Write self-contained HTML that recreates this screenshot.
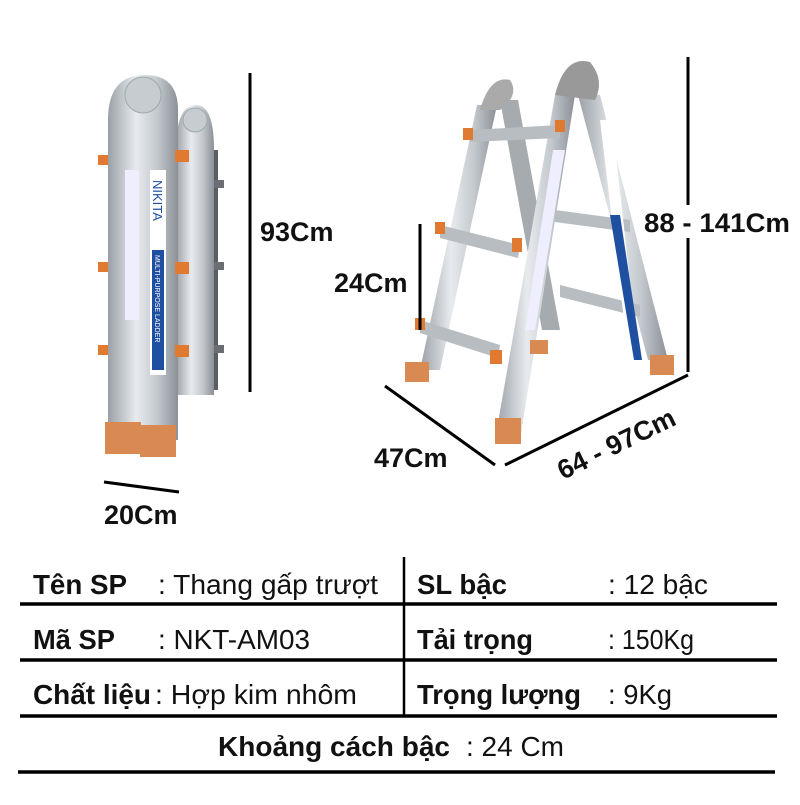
<!DOCTYPE html>
<html><head><meta charset="utf-8"><style>
body{margin:0;background:#fff;width:800px;height:800px;overflow:hidden}
svg text{font-family:"Liberation Sans",Arial,sans-serif}
</style></head><body>
<svg width="800" height="800" viewBox="0 0 800 800">
<defs>
<linearGradient id="al" x1="0" x2="1"><stop offset="0" stop-color="#9aa0a6"/><stop offset=".4" stop-color="#e8ebee"/><stop offset=".7" stop-color="#c4c9ce"/><stop offset="1" stop-color="#8a9096"/></linearGradient>
</defs>
<!-- folded ladder -->
<rect x="178" y="150" width="40" height="240" fill="#5a5e63"/>
<rect x="178" y="180" width="46" height="8" fill="#6a6e72"/>
<rect x="178" y="262" width="46" height="8" fill="#6a6e72"/>
<rect x="178" y="345" width="46" height="8" fill="#6a6e72"/>
<path d="M176 150 Q176 105 196 105 Q214 105 214 150 L214 395 L176 395Z" fill="url(#al)"/>
<path d="M108 440 L108 120 Q108 75 145 75 Q178 75 178 110 L178 440Z" fill="url(#al)"/>
<circle cx="143" cy="95" r="18" fill="#c7ccd1" stroke="#9aa" />
<circle cx="195" cy="120" r="12" fill="#c7ccd1" stroke="#9aa"/>
<rect x="150" y="170" width="16" height="205" fill="#fff"/>
<rect x="152" y="250" width="12" height="120" fill="#1f4fa0"/>
<text x="0" y="0" transform="translate(153 180) rotate(90)" font-size="13" fill="#1f4fa0">NIKITA</text>
<text x="0" y="0" transform="translate(155 255) rotate(90)" font-size="7" fill="#fff">MULTI-PURPOSE LADDER</text>
<rect x="125" y="170" width="14" height="150" fill="#eef"/>
<rect x="105" y="422" width="36" height="32" fill="#d98a52"/>
<rect x="140" y="425" width="36" height="32" fill="#d98a52"/>
<rect x="98" y="155" width="10" height="10" fill="#e07a30"/>
<rect x="98" y="262" width="10" height="10" fill="#e07a30"/>
<rect x="98" y="345" width="10" height="10" fill="#e07a30"/>
<rect x="175" y="150" width="14" height="12" fill="#e07a30"/>
<rect x="175" y="262" width="14" height="12" fill="#e07a30"/>
<rect x="175" y="345" width="14" height="12" fill="#e07a30"/>
<!-- open ladder -->
<g>
<polygon points="477,105 497,105 440,370 420,370" fill="url(#al)"/>
<polygon points="500,100 518,100 560,330 542,330" fill="#a6abb0"/>
<polygon points="555,95 575,95 520,440 495,440" fill="url(#al)"/>
<polygon points="578,95 600,95 668,360 648,360" fill="url(#al)"/>
<polygon points="470,130 560,125 560,138 470,142" fill="#b8bdc2"/>
<polygon points="440,225 520,245 518,258 440,238" fill="#b8bdc2"/>
<polygon points="420,320 500,345 498,358 420,333" fill="#b8bdc2"/>
<polygon points="555,210 630,220 630,232 555,222" fill="#b8bdc2"/>
<polygon points="560,285 640,305 640,317 560,297" fill="#b8bdc2"/>
<path d="M480 110 Q490 75 510 80 Q520 95 500 110Z" fill="#aaa"/>
<path d="M555 95 Q565 55 590 62 Q605 80 595 100Z" fill="#999"/>
<polygon points="600,120 612,120 640,370 630,370" fill="#fff"/>
<polygon points="610,215 620,215 642,360 634,360" fill="#1f4fa0"/>
<polygon points="553,150 565,150 535,330 525,330" fill="#eef"/>
<rect x="405" y="362" width="24" height="20" fill="#d98a52"/>
<rect x="495" y="418" width="26" height="26" fill="#d98a52"/>
<rect x="650" y="355" width="24" height="20" fill="#d98a52"/>
<rect x="530" y="340" width="18" height="14" fill="#d98a52"/>
<rect x="463" y="128" width="10" height="12" fill="#e07a30"/>
<rect x="555" y="120" width="10" height="12" fill="#e07a30"/>
<rect x="435" y="222" width="10" height="12" fill="#e07a30"/>
<rect x="512" y="238" width="10" height="14" fill="#e07a30"/>
<rect x="415" y="318" width="10" height="12" fill="#e07a30"/>
<rect x="490" y="350" width="12" height="14" fill="#e07a30"/>
</g>
<!-- dimension lines -->
<g stroke="#000" stroke-width="3" fill="none">
<line x1="250" y1="73" x2="250" y2="392"/>
<line x1="104" y1="482" x2="179" y2="492"/>
<line x1="688" y1="57" x2="688" y2="205"/>
<line x1="688" y1="238" x2="688" y2="372"/>
<line x1="420" y1="224" x2="420" y2="330"/>
<line x1="385" y1="386" x2="495" y2="465"/>
<line x1="505" y1="465" x2="688" y2="375"/>
</g>
<g font-weight="bold" font-size="27" fill="#111">
<text x="260" y="241">93Cm</text>
<text x="104" y="524">20Cm</text>
<text x="644" y="232" textLength="146" lengthAdjust="spacingAndGlyphs">88 - 141Cm</text>
<text x="334" y="292">24Cm</text>
<text x="374" y="467">47Cm</text>
<text x="0" y="0" transform="translate(563 480) rotate(-26)">64 - 97Cm</text>
</g>
<!-- table -->
<g stroke="#000" stroke-width="3.5">
<line x1="20" y1="604" x2="777" y2="604"/>
<line x1="20" y1="660" x2="777" y2="660"/>
<line x1="20" y1="716" x2="777" y2="716"/>
<line x1="18" y1="772" x2="775" y2="772"/>
<line x1="404" y1="557" x2="404" y2="716" stroke-width="2.5"/>
</g>
<g font-size="28" fill="#111">
<g font-weight="bold">
<text x="33" y="594" textLength="94" lengthAdjust="spacingAndGlyphs">Tên SP</text>
<text x="33" y="649" textLength="82" lengthAdjust="spacingAndGlyphs">Mã SP</text>
<text x="33" y="704" textLength="118" lengthAdjust="spacingAndGlyphs">Chất liệu</text>
<text x="417" y="594" textLength="90" lengthAdjust="spacingAndGlyphs">SL bậc</text>
<text x="417" y="649" textLength="116" lengthAdjust="spacingAndGlyphs">Tải trọng</text>
<text x="417" y="704" textLength="164" lengthAdjust="spacingAndGlyphs">Trọng lượng</text>
<text x="218" y="756" textLength="232" lengthAdjust="spacingAndGlyphs">Khoảng cách bậc</text>
</g>
<text x="158" y="594" textLength="220" lengthAdjust="spacingAndGlyphs">: Thang gấp trượt</text>
<text x="158" y="649" textLength="152" lengthAdjust="spacingAndGlyphs">: NKT-AM03</text>
<text x="155" y="704" textLength="202" lengthAdjust="spacingAndGlyphs">: Hợp kim nhôm</text>
<text x="608" y="594" textLength="100" lengthAdjust="spacingAndGlyphs">: 12 bậc</text>
<text x="608" y="649" textLength="86" lengthAdjust="spacingAndGlyphs">: 150Kg</text>
<text x="608" y="704" textLength="64" lengthAdjust="spacingAndGlyphs">: 9Kg</text>
<text x="466" y="756" textLength="98" lengthAdjust="spacingAndGlyphs">: 24 Cm</text>
</g>
</svg>
</body></html>
